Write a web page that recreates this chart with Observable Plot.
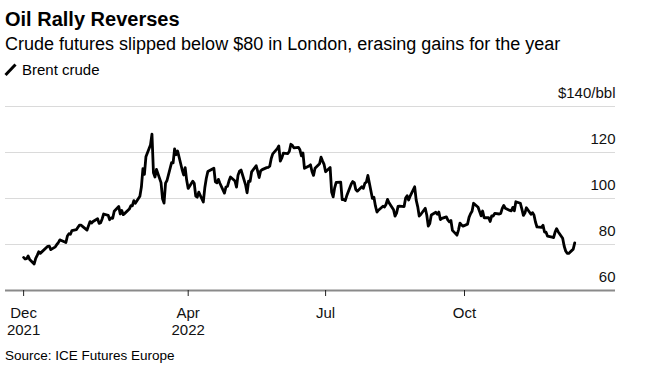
<!DOCTYPE html>
<html>
<head>
<meta charset="utf-8">
<script src="https://cdn.jsdelivr.net/npm/d3@7"></script>
<script src="https://cdn.jsdelivr.net/npm/@observablehq/plot@0.6"></script>
<style>
  html, body { margin: 0; padding: 0; background: #fff; }
  body { font-family: "Liberation Sans", Arial, sans-serif; color: #000; }
  #wrap { position: relative; width: 648px; height: 370px; overflow: hidden; }
  .t { position: absolute; left: 5px; white-space: nowrap; }
  #title { top: 7px; font-size: 20px; font-weight: bold; line-height: 24px; }
  #subtitle { top: 33px; font-size: 18px; line-height: 22px; }
  #legend { top: 61px; font-size: 15px; line-height: 18px; left: 22px; }
  #swatch { position: absolute; left: 3px; top: 61px; }
  #chart { position: absolute; left: 0; top: 80px; }
  #source { top: 348px; font-size: 13.5px; line-height: 16px; }
</style>
</head>
<body>
<div id="wrap">
  <div class="t" id="title">Oil Rally Reverses</div>
  <div class="t" id="subtitle">Crude futures slipped below $80 in London, erasing gains for the year</div>
  <svg id="swatch" width="16" height="18"><line x1="2.5" y1="14" x2="12.5" y2="3.5" stroke="#000" stroke-width="3" stroke-linecap="butt"/></svg>
  <div class="t" id="legend">Brent crude</div>
  <div id="chart"></div>
  <div class="t" id="source">Source: ICE Futures Europe</div>
</div>
<script>
// Brent crude, daily settlement ($/bbl)
const dates = [
  "2021-12-13","2021-12-14","2021-12-15","2021-12-16","2021-12-17","2021-12-20","2021-12-21","2021-12-22","2021-12-23","2021-12-24","2021-12-29","2021-12-30","2021-12-31",
  "2022-01-03","2022-01-04","2022-01-05","2022-01-06","2022-01-07","2022-01-10","2022-01-11","2022-01-12","2022-01-13","2022-01-14","2022-01-17","2022-01-18","2022-01-19","2022-01-20","2022-01-21","2022-01-24","2022-01-25","2022-01-26","2022-01-27","2022-01-28","2022-01-31",
  "2022-02-01","2022-02-02","2022-02-03","2022-02-04","2022-02-07","2022-02-08","2022-02-09","2022-02-10","2022-02-11","2022-02-14","2022-02-15","2022-02-16","2022-02-17","2022-02-18","2022-02-21","2022-02-22","2022-02-23","2022-02-24","2022-02-25","2022-02-28",
  "2022-03-01","2022-03-02","2022-03-03","2022-03-04","2022-03-07","2022-03-08","2022-03-09","2022-03-10","2022-03-11","2022-03-14","2022-03-15","2022-03-16","2022-03-17","2022-03-18","2022-03-21","2022-03-22","2022-03-23","2022-03-24","2022-03-25","2022-03-28","2022-03-29","2022-03-30","2022-03-31",
  "2022-04-01","2022-04-04","2022-04-05","2022-04-06","2022-04-07","2022-04-08","2022-04-11","2022-04-12","2022-04-13","2022-04-14","2022-04-18","2022-04-19","2022-04-20","2022-04-21","2022-04-22","2022-04-25","2022-04-26","2022-04-27","2022-04-28","2022-04-29",
  "2022-05-02","2022-05-03","2022-05-04","2022-05-05","2022-05-06","2022-05-09","2022-05-10","2022-05-11","2022-05-12","2022-05-13","2022-05-16","2022-05-17","2022-05-18","2022-05-19","2022-05-20","2022-05-23","2022-05-24","2022-05-25","2022-05-26","2022-05-27","2022-05-30","2022-05-31",
  "2022-06-01","2022-06-02","2022-06-03","2022-06-06","2022-06-07","2022-06-08","2022-06-09","2022-06-10","2022-06-13","2022-06-14","2022-06-15","2022-06-16","2022-06-17","2022-06-20","2022-06-21","2022-06-22","2022-06-23","2022-06-24","2022-06-27","2022-06-28","2022-06-29","2022-06-30",
  "2022-07-01","2022-07-04","2022-07-05","2022-07-06","2022-07-07","2022-07-08","2022-07-11","2022-07-12","2022-07-13","2022-07-14","2022-07-15","2022-07-18","2022-07-19","2022-07-20","2022-07-21","2022-07-22","2022-07-25","2022-07-26","2022-07-27","2022-07-28","2022-07-29",
  "2022-08-01","2022-08-02","2022-08-03","2022-08-04","2022-08-05","2022-08-08","2022-08-09","2022-08-10","2022-08-11","2022-08-12","2022-08-15","2022-08-16","2022-08-17","2022-08-18","2022-08-19","2022-08-22","2022-08-23","2022-08-24","2022-08-25","2022-08-26","2022-08-29","2022-08-30","2022-08-31",
  "2022-09-01","2022-09-02","2022-09-05","2022-09-06","2022-09-07","2022-09-08","2022-09-09","2022-09-12","2022-09-13","2022-09-14","2022-09-15","2022-09-16","2022-09-19","2022-09-20","2022-09-21","2022-09-22","2022-09-23","2022-09-26","2022-09-27","2022-09-28","2022-09-29","2022-09-30",
  "2022-10-03","2022-10-04","2022-10-05","2022-10-06","2022-10-07","2022-10-10","2022-10-11","2022-10-12","2022-10-13","2022-10-14","2022-10-17","2022-10-18","2022-10-19","2022-10-20","2022-10-21","2022-10-24","2022-10-25","2022-10-26","2022-10-27","2022-10-28","2022-10-31",
  "2022-11-01","2022-11-02","2022-11-03","2022-11-04","2022-11-07","2022-11-08","2022-11-09","2022-11-10","2022-11-11","2022-11-14","2022-11-15","2022-11-16","2022-11-17","2022-11-18","2022-11-21","2022-11-22","2022-11-23","2022-11-24","2022-11-25","2022-11-28","2022-11-29","2022-11-30",
  "2022-12-01","2022-12-02","2022-12-05","2022-12-06","2022-12-07","2022-12-08","2022-12-09","2022-12-12","2022-12-13"
];
const prices = [
  74.39,73.70,73.88,75.02,73.52,71.52,73.98,75.29,76.85,76.14,79.23,79.32,77.78,
  78.98,80.00,80.80,81.99,81.75,80.87,83.72,84.67,84.47,86.06,86.48,87.51,88.44,88.38,87.89,86.27,88.20,89.96,89.34,90.03,91.21,
  89.16,89.47,91.11,93.27,92.69,90.78,91.55,91.41,94.44,96.48,93.28,94.81,92.97,93.54,95.39,96.84,96.84,99.08,97.93,100.99,
  104.97,112.93,110.46,118.11,123.21,127.98,111.14,109.33,112.67,106.90,99.91,98.02,106.64,107.93,115.62,115.48,121.60,119.03,120.65,112.48,110.23,113.45,107.91,
  104.39,107.53,106.64,101.07,100.58,102.78,98.48,104.64,108.78,111.70,113.16,107.25,106.80,108.33,106.65,102.32,104.99,105.32,107.59,109.34,
  107.58,104.97,110.14,111.90,112.39,105.94,102.46,107.51,107.45,111.55,114.24,111.93,109.11,112.04,112.55,113.42,113.56,114.03,117.40,119.43,121.67,122.84,
  116.29,117.61,119.72,119.51,120.57,123.58,123.07,122.01,122.27,121.17,118.51,119.81,113.12,114.13,114.65,111.74,110.05,113.12,115.09,117.98,116.26,114.81,
  111.63,113.50,102.77,100.69,104.65,107.02,107.10,99.49,99.57,99.10,101.16,106.27,107.35,106.92,103.86,103.20,105.15,104.40,106.62,107.14,110.01,
  100.03,100.54,96.78,94.12,94.92,96.65,96.31,97.40,99.60,98.15,95.10,92.34,93.65,96.59,96.72,96.48,100.22,101.22,99.34,100.99,105.09,99.31,96.49,
  92.36,93.02,95.74,92.83,88.00,89.15,92.84,94.00,93.17,94.10,90.84,91.35,92.00,90.62,89.83,90.46,86.15,84.06,86.27,89.32,88.49,87.96,
  88.86,91.80,93.37,94.42,97.92,96.19,94.29,92.45,94.57,91.63,91.62,90.03,92.41,92.38,93.50,93.26,93.52,95.69,96.96,95.77,94.83,
  94.65,96.16,94.67,98.57,97.92,95.36,92.65,93.67,95.99,93.14,93.86,92.86,89.78,87.62,87.45,88.36,85.41,85.34,83.63,83.19,83.03,85.43,
  86.88,85.57,82.68,79.35,77.17,76.15,76.10,77.99,80.68
];
const xTickDates = ["2021-12-13","2022-04-01","2022-07-01","2022-10-01"];
const xTickLabels = ["Dec\n2021","Apr\n2022","Jul",  "Oct"];
const yTicks = [60, 80, 100, 120, 140];
const yTickLabels = ["60","80","100","120","$140/bbl"];
const gridValues = [80, 100, 120, 140];
const xDomain = ["2021-12-01","2023-01-09"];

const data = dates.map((d, i) => ({date: new Date(d), price: prices[i]}));
const xTicks = xTickDates.map(d => new Date(d));
const xLabelMap = new Map(xTicks.map((d, i) => [d.getTime(), xTickLabels[i]]));
const yLabelMap = new Map(yTicks.map((v, i) => [v, yTickLabels[i]]));

const chart = Plot.plot({
  width: 648,
  height: 265,
  marginTop: 26,
  marginBottom: 55,
  marginLeft: 5,
  marginRight: 33,
  style: {fontFamily: "'Liberation Sans', Arial, sans-serif", fontSize: "15px", color: "#000", background: "transparent", overflow: "visible"},
  x: {type: "utc", domain: xDomain.map(d => new Date(d)), label: null},
  y: {domain: [60, 140], label: null},
  marks: [
    Plot.ruleY(gridValues, {stroke: "#dadada", strokeWidth: 1}),
    Plot.ruleY([60], {stroke: "#8a8a8a", strokeWidth: 2}),
    Plot.axisX(xTicks, {
      label: null,
      tickSize: 6, tickPadding: 9, stroke: "#222", fill: "#111",
      fontSize: 15, lineHeight: 17/15,
      tickFormat: d => xLabelMap.get(d.getTime())
    }),
    Plot.axisY(yTicks, {
      label: null,
      anchor: "right", tickSize: 0, tickPadding: 0, textAnchor: "end", dy: -13,
      fontSize: 15, fill: "#111",
      tickFormat: d => yLabelMap.get(d)
    }),
    Plot.line(data, {x: "date", y: "price", stroke: "#000", strokeWidth: 2.8, strokeLinejoin: "round", strokeLinecap: "round"})
  ]
});
document.getElementById("chart").appendChild(chart);
</script>
</body>
</html>
